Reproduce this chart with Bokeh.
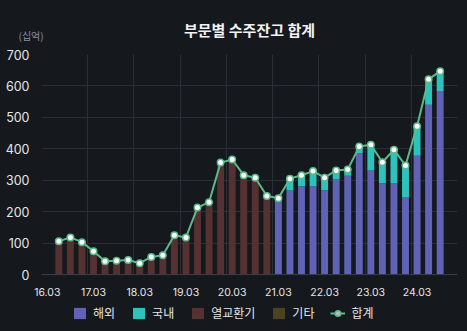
from bokeh.plotting import figure
from bokeh.models import (ColumnDataSource, FixedTicker, Legend, LegendItem)
from bokeh.layouts import column
from bokeh.core.properties import value
from bokeh.embed import file_html
from bokeh.resources import INLINE
import numpy as np

quarters = ["16.03", "16.06", "16.09", "16.12", "17.03", "17.06", "17.09", "17.12",
            "18.03", "18.06", "18.09", "18.12", "19.03", "19.06", "19.09", "19.12",
            "20.03", "20.06", "20.09", "20.12", "21.03", "21.06", "21.09", "21.12",
            "22.03", "22.06", "22.09", "22.12", "23.03", "23.06", "23.09", "23.12",
            "24.03", "24.06", "24.09", "24.12"]
N = None
overseas = [N, 0, 0, 0, 0, 0, 0, 0, 0, 0, 0, 0, 0, 0, 0, 0, 0, 0, 0, 0,
            242, 267, 281, 281, 268, 302, 314, 386, 331, 290, 291, 245, 378, 540, 584, N]
domestic = [N, 0, 0, 0, 0, 0, 0, 0, 0, 0, 0, 0, 0, 0, 0, 0, 0, 0, 0, 0,
            1, 38, 35, 48, 40, 29, 20, 21, 82, 67, 106, 102, 94, 81, 63, N]
heatex = [N, 106, 118, 103, 74, 42, 44, 46, 36, 56, 61, 125, 118, 213, 230, 356, 366, 316, 308, 250,
          0, 0, 0, 0, 0, 0, 0, 0, 0, 0, 0, 0, 0, 0, 0, N]
others = [N, 0, 0, 0, 0, 0, 0, 0, 0, 0, 0, 0, 0, 0, 0, 0, 0, 0, 0, 0,
          0, 0, 0, 0, 0, 0, 0, 0, 0, 0, 0, 0, 0, 0, 0, N]
series_names = ["해외", "국내", "열교환기", "기타"]
total_name = "합계"
title_text = "부문별 수주잔고 합계"
unit_text = "(십억)"
label_every = 4

def arr(v):
    return np.array([np.nan if x is None else x for x in v], dtype=float)

xs = np.arange(len(quarters))
a, b, c, d = arr(overseas), arr(domestic), arr(heatex), arr(others)
total = a + b + c + d

src = ColumnDataSource(dict(x=xs, a=a, b=b, c=c, d=d, total=total))

BG = "#15181d"
GRID = "#2a2e36"
TXT = "#e6e6e6"
colors = ["#6062b6", "#2cc3bc", "#553131", "#4c4121"]
LINE = "#5cba8a"
KFONT = "Noto Sans CJK KR"
W = 467

def bare(h, yr):
    f = figure(width=W, height=h, output_backend="svg", toolbar_location=None,
               x_range=(0, W), y_range=yr, x_axis_type=None, y_axis_type=None,
               min_border=0, min_border_left=0, min_border_right=0,
               min_border_top=0, min_border_bottom=0,
               outline_line_color=None)
    f.background_fill_color = BG
    f.border_fill_color = BG
    f.styles = {"background-color": BG}
    return f

# ---- header (title + unit) ----
H_HEAD = 44
head = bare(H_HEAD, (H_HEAD, 0))
head.text(x=[249], y=[28.5], text=[title_text], text_align="center", text_baseline="middle",
          text_font=value(KFONT), text_font_size="15px", text_font_style="bold",
          text_color="#f2f2f2")
head.text(x=[18], y=[35], text=[unit_text], text_align="left", text_baseline="middle",
          text_font=value(KFONT), text_font_size="10px", text_color="#8a909a")

# ---- main chart ----
p = figure(width=W, height=256, output_backend="svg", toolbar_location=None,
           x_range=(-0.5, len(quarters) - 0.5), y_range=(0, 700),
           min_border_left=41, min_border_right=10, min_border_top=10, min_border_bottom=26)
p.background_fill_color = BG
p.border_fill_color = BG
p.outline_line_color = None
p.styles = {"background-color": BG}

p.vbar_stack(["a", "b", "c", "d"], x="x", width=0.6, source=src,
             color=colors, line_color=None)
p.line("x", "total", source=src, line_color=LINE, line_width=2)
p.scatter("x", "total", source=src, size=6.5, fill_color="white",
          line_color=LINE, line_width=1.5)

ticks = list(xs[::label_every])
p.xaxis.ticker = FixedTicker(ticks=ticks)
p.xaxis.major_label_overrides = {int(t): quarters[int(t)] for t in ticks}
p.xaxis.major_tick_line_color = None
p.xaxis.minor_tick_line_color = None
p.xaxis.axis_line_color = "#3a3e47"
p.xaxis.major_label_text_color = TXT
p.xaxis.major_label_text_font = "Inter"
p.xaxis.major_label_text_font_size = "10.5px"
p.xaxis.major_label_standoff = 7

p.yaxis.ticker = FixedTicker(ticks=list(range(0, 701, 100)))
p.yaxis.axis_line_color = None
p.yaxis.major_tick_line_color = None
p.yaxis.minor_tick_line_color = None
p.yaxis.major_label_text_color = TXT
p.yaxis.major_label_text_font = "Inter"
p.yaxis.major_label_text_font_size = "12.5px"
p.yaxis.major_label_standoff = 6

p.xgrid.ticker = FixedTicker(ticks=[t - 0.5 for t in range(0, len(quarters) + 1, label_every)])
p.xgrid.grid_line_color = GRID
p.ygrid.grid_line_color = GRID

# ---- footer legend ----
H_FOOT = 31
foot = bare(H_FOOT, (0, H_FOOT))
off = [-100]
lr = [foot.vbar(x=off, top=off, width=1, color=col, line_color=None) for col in colors]
fl = foot.line(x=off, y=off, line_color=LINE, line_width=2)
fs = foot.scatter(x=off, y=off, size=8, fill_color="#b9bcc0", line_color=LINE, line_width=1.5)
items = [LegendItem(label=series_names[i], renderers=[lr[i]]) for i in range(4)]
items.append(LegendItem(label=total_name, renderers=[fl, fs]))
legend = Legend(items=items, orientation="horizontal", location=(72, 10),
                background_fill_alpha=0, border_line_color=None,
                label_text_color=TXT, label_text_font=KFONT, label_text_font_size="12px",
                glyph_width=15, glyph_height=14, label_standoff=6, spacing=16,
                padding=4, margin=0, label_height=14, label_width=0)
foot.add_layout(legend, "center")

c1, c2, c3 = column(head), column(p), column(foot)
for c in (c1, c2, c3):
    c.styles = {"background-color": BG}
layout = column(c1, c2, c3, spacing=0)
layout.styles = {"background-color": BG}
open("out.html", "w").write(file_html(layout, INLINE))
